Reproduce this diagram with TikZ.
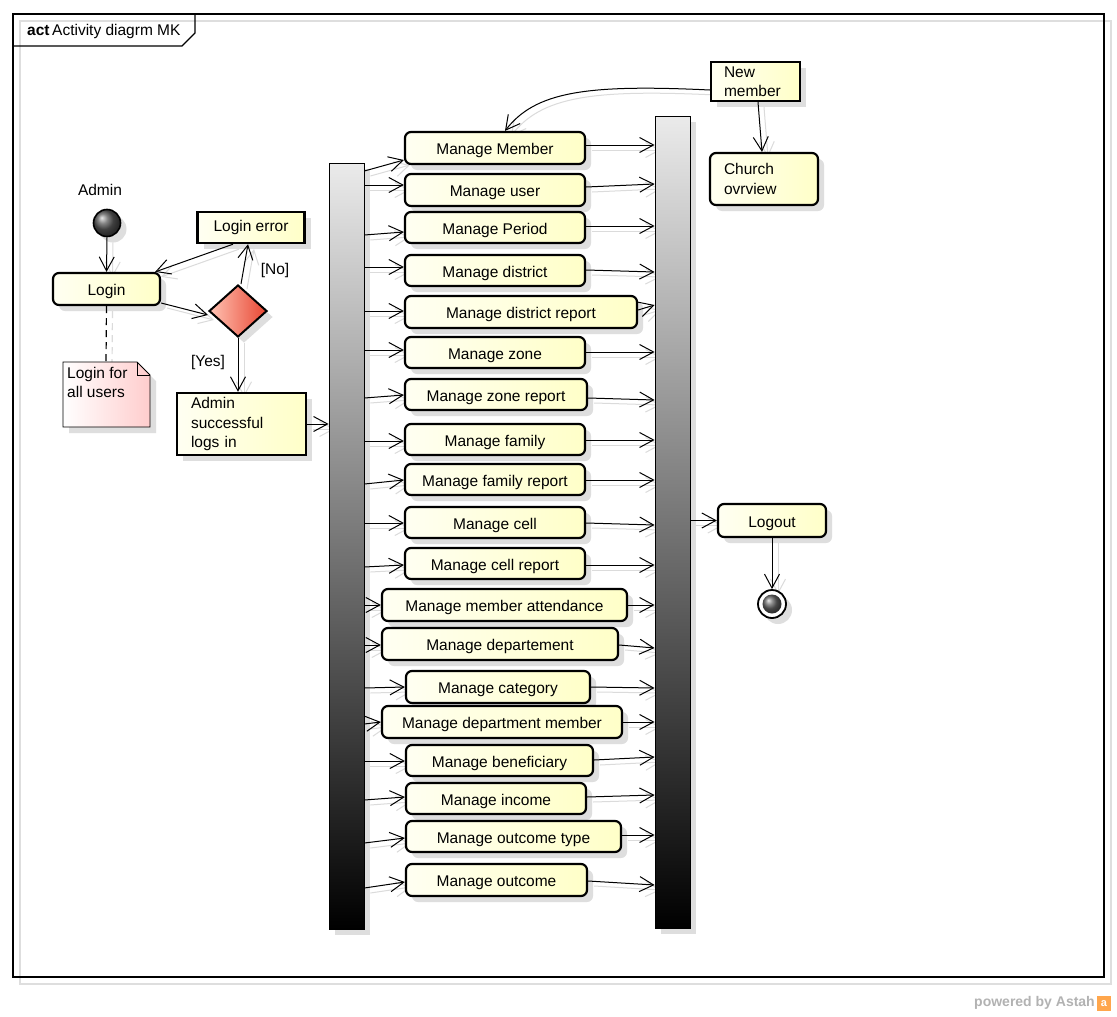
\documentclass[tikz,border=0pt]{standalone}
\usepackage{fontspec}
\setmainfont{Liberation Sans}
\usetikzlibrary{arrows.meta,shapes.geometric,shadows}
\definecolor{yel1}{RGB}{255,255,242}
\definecolor{yel2}{RGB}{255,255,200}
\definecolor{pinkc}{RGB}{255,205,205}
\definecolor{dia1}{RGB}{255,195,180}
\definecolor{dia2}{RGB}{232,70,50}
\definecolor{shadc}{RGB}{222,222,222}
\pgfdeclarelayer{bg}
\pgfsetlayers{bg,main}
\tikzset{
  base/.style={font=\fontsize{15.5}{19.5}\selectfont},
  shad/.style={general shadow={fill=shadc, shadow xshift=6pt, shadow yshift=-6pt}},
  actbox/.style={base, shad, draw=black, line width=2.2pt, rounded corners=6pt,
    left color=yel1, right color=yel2, inner sep=0pt},
  oneline/.style={text height=13pt, text depth=0pt},
  objbox/.style={base, shad, draw=black, line width=2.4pt,
    left color=yel1, right color=yel2, inner sep=0pt},
  barbox/.style={shad, draw=black, line width=0.8pt, top color=black!8, bottom color=black, inner sep=0pt},
  arr/.style={line width=1pt, -{Straight Barb[length=14pt,width=15pt]}},
}
\newcommand\mdata{
1/Manage Member/405/585/132/164/171/160/145/145,
2/Manage user/405/585/174/206/185/185/187/184,
3/Manage Period/405/585/212/243/235/232/226/226,
4/Manage district/405/585/255/286/267/267/270/272,
5/Manage district report/405/637/296/328/311/311/310/305,
6/Manage zone/405/585/337/368/350/350/352/352,
7/Manage zone report/405/587/379/410/398/395/398/400,
8/Manage family/405/585/424/455/441/441/440/440,
9/Manage family report/405/585/464/495/484/480/480/480,
10/Manage cell/405/585/507/538/523/523/523/525,
11/Manage cell report/405/585/548/579/567/565/565/565,
12/Manage member attendance/382/627/589/621/605/605/605/605,
13/Manage departement/382/618/628/660/645/645/645/648,
14/Manage category/406/590/671/703/688/687/687/688,
15/Manage department member/382/622/706/738/724/722/722/722,
16/Manage beneficiary/406/593/745/776/761/761/760/757,
17/Manage income/406/586/783/814/800/797/797/795,
18/Manage outcome type/406/621/821/852/843/838/835/835,
19/Manage outcome/406/587/864/896/888/882/881/885}
\newcommand\myconns{%
  \draw[arr] (init.south) -- (login.north);
  \draw[arr] (login.east |- 0,303) -- ([yshift=-4pt]dia.west);
  \draw[arr] ([xshift=3pt]dia.north) -- ([xshift=-3pt]lerr.south);
  \draw[arr] ([xshift=-18pt]lerr.south) -- ([xshift=-6pt]login.north east);
  \draw[arr] (dia.south) -- (admin.north -| dia.south);
  \draw[line width=1.2pt, dash pattern=on 7pt off 5pt] (login.south) -- (notetop);
  \draw[arr] (admin.east) -- (lbar.west |- admin.east);
  \foreach \n/\t/\xl/\xr/\yt/\yb/\la/\lb/\ra/\rb in \mdata {
    \draw[arr] (lbar.east |- 0,\la) -- (m\n.west |- 0,\lb);
    \draw[arr] (m\n.east |- 0,\ra) -- (rbar.west |- 0,\rb);
  }
  \draw[arr] (rbar.east |- logout.west) -- (logout.west);
  \draw[arr] (logout.south) -- (final.north);
  \draw[arr] (newm.west |- 0,90) .. controls (585,84) and (535,92) .. ([xshift=10pt]m1.north);
  \draw[arr] ([xshift=2.5pt]newm.south) -- ([xshift=-2pt]church.north);
}
\begin{document}
\begin{tikzpicture}[x=1pt,y=-1pt]
\useasboundingbox (0,0) rectangle (1117,1017);
% frame
\begin{pgfonlayer}{bg}
\fill[white] (0,0) rectangle (1117,1017);
\draw[shadc, line width=1.5pt] (20,21) rectangle (1111,984);
\end{pgfonlayer}
\draw[line width=1.2pt] (13,14) rectangle (1104,977);
\draw[line width=1.2pt] (13,46) -- (182,46) -- (195,33) -- (195,14);
\node[base, anchor=west, inner sep=0pt] (title) at (27,31) {\textbf{act}\,Activity diagrm MK};

% left part
\node[base, inner sep=0pt] (adminlbl) at (100,190) {Admin};
\node[circle, draw=black, line width=1.6pt, ball color=black!65, minimum size=27pt, inner sep=0pt, shad] (init) at (107,223) {};
\node[actbox, oneline, minimum width=107pt, minimum height=32pt] (login) at (106.5,289) {Login};
\node[objbox, minimum width=107pt, minimum height=31pt] (lerr) at (251,227.5) {Login error};
\node[diamond, draw=black, line width=2pt, left color=dia1, right color=dia2, minimum width=58pt, minimum height=52pt, inner sep=0pt, shad] (dia) at (238,311) {};
\node[base, inner sep=0pt] (nolbl) at (275,270) {[No]};
\node[base, inner sep=0pt] (yeslbl) at (208,362) {[Yes]};
\node[objbox, minimum width=129pt, minimum height=62pt, text width=101pt, inner xsep=14pt, align=left] (admin) at (241.5,424) {Admin\\successful\\logs in};
% note
\path[shad, draw=black, line width=0.8pt, left color=white, right color=pinkc]
  (63,362) -- (137,362) -- (150,375) -- (150,427) -- (63,427) -- cycle;
\draw[line width=0.8pt] (137,362) -- (137,375) -- (150,375);
\coordinate (notetop) at (106,362);
\node[base, anchor=north west, inner sep=0pt, align=left] (notetxt) at (67,367) {Login for\\all users};

% bars
\node[barbox, minimum width=35pt, minimum height=766pt] (lbar) at (346.5,546) {};
\node[barbox, minimum width=35pt, minimum height=812pt] (rbar) at (672.5,522) {};

% activities
\foreach \n/\t/\xl/\xr/\yt/\yb/\la/\lb/\ra/\rb in \mdata {
  \node[actbox, oneline, minimum width={(\xr-\xl)*1pt}, minimum height={(\yb-\yt)*1pt}] (m\n) at ({(\xl+\xr)/2},{(\yt+\yb)/2}) {\t};
}

% right part
\node[objbox, minimum width=89pt, minimum height=39pt, text width=63pt, inner xsep=13pt, align=left] (newm) at (755.5,81.5) {New\\member};
\node[actbox, minimum width=108pt, minimum height=52pt, text width=80pt, inner xsep=14pt, align=left] (church) at (764,179) {Church\\ovrview};
\node[actbox, oneline, minimum width=108pt, minimum height=33pt] (logout) at (772,520.5) {Logout};
\node[circle, draw=black, line width=1.8pt, fill=white, minimum size=28pt, inner sep=0pt, shad] (final) at (772,604) {};
\node[circle, ball color=black!60, minimum size=19pt, inner sep=0pt] (finalin) at (772,604) {};

% connectors: shadows then main
\begin{pgfonlayer}{bg}
\begin{scope}[transform canvas={xshift=6pt,yshift=-5pt}, color=black!14]
\myconns
\end{scope}
\end{pgfonlayer}
\myconns

% footer
\node[anchor=east, inner sep=0pt, text=black!30, font=\fontsize{14}{16}\selectfont\bfseries] (pow) at (1095,1003) {powered by Astah};
\node[fill=orange!70, minimum width=14pt, minimum height=15pt, inner sep=0pt, text=white, font=\fontsize{11}{11}\selectfont\bfseries] (logo) at (1104,1003.5) {a};
\end{tikzpicture}
\end{document}
